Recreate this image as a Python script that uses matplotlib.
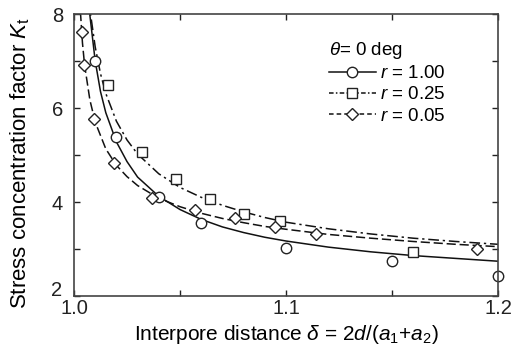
import matplotlib
matplotlib.use("Agg")
import matplotlib.pyplot as plt
import matplotlib.transforms as mtransforms
from matplotlib.ticker import MultipleLocator

plt.rcParams['font.family'] = ['Liberation Sans', 'DejaVu Sans']
plt.rcParams['mathtext.fontset'] = 'custom'
plt.rcParams['mathtext.rm'] = 'Liberation Sans'
plt.rcParams['mathtext.it'] = 'Liberation Sans:italic'

# measured points
r100_x = [1.010, 1.020, 1.040, 1.060, 1.100, 1.150, 1.200]
r100_y = [7.00, 5.38, 4.11, 3.55, 3.03, 2.74, 2.43]
r025_x = [1.016, 1.032, 1.048, 1.064, 1.080, 1.097, 1.160]
r025_y = [6.50, 5.06, 4.50, 4.06, 3.74, 3.60, 2.94]
r005_x = [1.0036, 1.0047, 1.0094, 1.019, 1.037, 1.057, 1.076, 1.095, 1.114, 1.190]
r005_y = [7.62, 6.91, 5.76, 4.82, 4.09, 3.82, 3.65, 3.46, 3.32, 2.99]

# fitted curves
fit100_x = [1.0070, 1.0075, 1.010, 1.0125, 1.015, 1.02, 1.025, 1.03, 1.04, 1.05, 1.06,
            1.07, 1.08, 1.09, 1.10, 1.12, 1.14, 1.16, 1.18, 1.20]
fit100_y = [8.20, 7.97, 7.00, 6.35, 5.90, 5.28, 4.86, 4.53, 4.12, 3.84, 3.63,
            3.47, 3.35, 3.25, 3.17, 3.04, 2.94, 2.86, 2.80, 2.74]
fit025_x = [1.0070, 1.0078, 1.010, 1.0125, 1.015, 1.02, 1.025, 1.03, 1.04, 1.05, 1.06,
            1.07, 1.08, 1.09, 1.10, 1.12, 1.14, 1.16, 1.18, 1.20]
fit025_y = [8.35, 8.00, 7.30, 6.73, 6.31, 5.72, 5.32, 5.02, 4.60, 4.31, 4.10,
            3.93, 3.79, 3.67, 3.57, 3.43, 3.32, 3.23, 3.16, 3.10]
fit005_x = [1.0025, 1.0031, 1.004, 1.005, 1.0075, 1.010, 1.015, 1.02, 1.025, 1.03, 1.04,
            1.05, 1.06, 1.07, 1.08, 1.09, 1.10, 1.12, 1.14, 1.16, 1.18, 1.20]
fit005_y = [8.40, 8.00, 7.38, 6.91, 6.17, 5.70, 5.13, 4.78, 4.54, 4.35, 4.08,
            3.90, 3.76, 3.65, 3.56, 3.48, 3.42, 3.31, 3.23, 3.16, 3.10, 3.05]

labels = ['$r$ = 1.00', '$r$ = 0.25', '$r$ = 0.05']

fig = plt.figure(figsize=(5.18, 3.54), dpi=100)
ax = fig.add_axes([74 / 518, 58 / 354, 424 / 518, 282 / 354])

lw = 1.1
mk = dict(markerfacecolor='white', markeredgecolor='#222222', markeredgewidth=1.0)

ax.plot(fit100_x, fit100_y, color='#111111', lw=lw, ls='-')
ax.plot(fit025_x, fit025_y, color='#111111', lw=lw, ls=(0, (7, 2.5, 1.5, 2.5)))
ax.plot(fit005_x, fit005_y, color='#111111', lw=lw, ls=(0, (6, 2.5)))

ax.plot(r100_x, r100_y, ls='none', marker='o', ms=7.5, clip_on=False, **mk)
ax.plot(r025_x, r025_y, ls='none', marker='s', ms=6.5, **mk)
ax.plot(r005_x, r005_y, ls='none', marker='D', ms=6, **mk)

# legend proxies
h1, = ax.plot([], [], color='#111111', lw=lw, ls='-', marker='o', ms=7.5, **mk)
h2, = ax.plot([], [], color='#111111', lw=lw, ls=(0, (3, 1.5, 1, 1.5)), marker='s', ms=6.5, **mk)
h3, = ax.plot([], [], color='#111111', lw=lw, ls=(0, (3, 2)), marker='D', ms=6, **mk)
leg = ax.legend([h1, h2, h3], labels, title=r'$\theta$= 0 deg', loc='upper left',
                bbox_to_anchor=(0.57, 0.955), frameon=False, fontsize=13.5,
                title_fontsize=13.5, handlelength=2.5, handletextpad=0.25,
                labelspacing=0.22, borderpad=0.2)
leg._legend_box.align = 'left'

ax.set_xlim(1.0, 1.2)
ax.set_ylim(2, 8)
ax.xaxis.set_major_locator(MultipleLocator(0.1))
ax.xaxis.set_minor_locator(MultipleLocator(0.05))
ax.yaxis.set_major_locator(MultipleLocator(2))
ax.yaxis.set_minor_locator(MultipleLocator(1))
ax.xaxis.set_major_formatter(plt.FuncFormatter(lambda v, p: f'{v:.1f}'))
# bottom label "2" is placed by hand a bit higher, so it clears "1.0"
ax.yaxis.set_major_formatter(plt.FuncFormatter(lambda v, p: '' if v < 2.5 else f'{v:.0f}'))
ax.tick_params(which='both', direction='in', top=True, right=True, length=4,
               width=1.0, labelsize=14.5, colors='#222222')
ax.tick_params(axis='x', pad=2)
ax.tick_params(axis='y', pad=8)
for s in ax.spines.values():
    s.set_linewidth(1.2)
    s.set_color('#444444')

off = mtransforms.offset_copy(ax.get_yaxis_transform(), fig=fig, x=-12, y=6, units='dots')
ax.text(0, 2, '2', transform=off, ha='right', va='center', fontsize=14.5, color='#222222')

ax.set_xlabel(r'Interpore distance $\delta$ = 2$d$/($a_{1}$+$a_{2}$)', fontsize=15, labelpad=4)
ax.set_ylabel(r'Stress concentration factor $K_{\mathrm{t}}$', fontsize=16)
ax.yaxis.set_label_coords(-0.098, 0.47)

fig.savefig('out.png', dpi=100)
